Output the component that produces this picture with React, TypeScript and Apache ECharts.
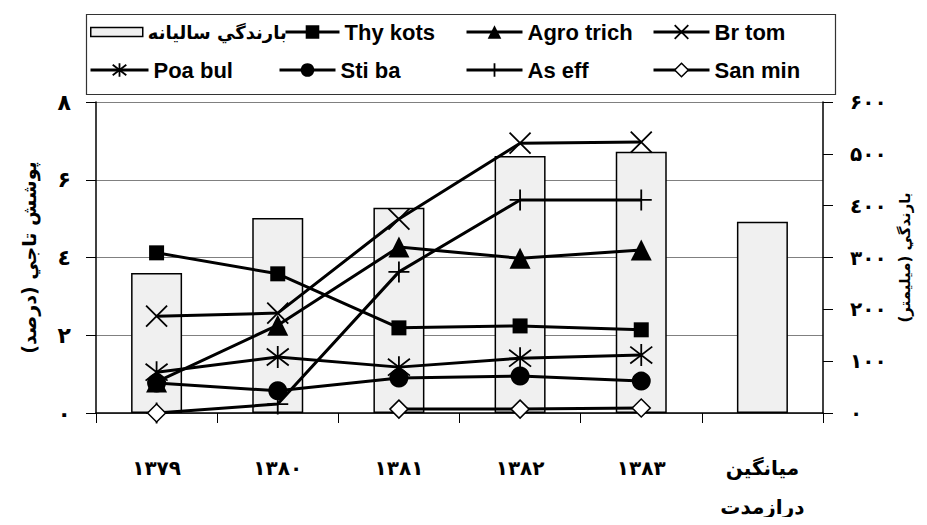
import React, { useEffect, useRef } from 'react';
import * as echarts from 'echarts';

const categories = ['۱۳۷۹', '۱۳۸۰', '۱۳۸۱', '۱۳۸۲', '۱۳۸۳', 'ميانگين\nدرازمدت'];
const rainfall = [270, 376, 396, 496, 504, 369];
const thyKots = [4.12, 3.58, 2.19, 2.24, 2.14, null];
const agroTrich = [0.8, 2.26, 4.27, 3.98, 4.19, null];
const brTom = [2.49, 2.57, 4.99, 6.94, 6.97, null];
const poaBul = [1.05, 1.44, 1.18, 1.41, 1.49, null];
const stiBa = [0.77, 0.57, 0.9, 0.95, 0.82, null];
const asEff = [0, 0.23, 3.63, 5.48, 5.48, null];
const sanMin = [0, null, 0.1, 0.1, 0.13, null];

const leftName = 'پوشش تاجي (درصد)';
const rightName = 'بارندگي (ميليمتر)';
const barName = 'بارندگي ساليانه';

const FA = '۰۱۲۳٤۵۶۷۸۹';
const toFa = (v: number) => String(v).replace(/[0-9]/g, (d) => FA[Number(d)]);

const LAT = 'Liberation Sans, Arial, sans-serif';
const PER = 'DejaVu Sans, sans-serif';

const CROSS = 'path://M0,0L10,10M10,0L0,10';
const PLUS = 'path://M5,0L5,10M0,5L10,5';
const ASTER = 'path://M0,0L10,10M10,0L0,10M5,-1.5L5,11.5';

// the div sits at the body's 8px margin; page coordinates minus 8
const OFF = 8;
const W = 927 - 2 * OFF;
const H = 525 - 2 * OFF;

export default function App() {
  const ref = useRef<HTMLDivElement>(null);
  useEffect(() => {
    if (!ref.current) return;
    const chart = echarts.init(ref.current, undefined, { renderer: 'svg' });

    const isPath = (s: string) => s.startsWith('path://');
    const symStyle = (symbol: string, hollow: boolean) => ({
      color: hollow ? '#fff' : '#000',
      borderColor: '#000',
      borderWidth: isPath(symbol) ? 1.8 : hollow ? 1.5 : 0,
    });

    const lineSeries = (name: string, data: any[], symbol: string, size: number, hollow = false) => ({
      name,
      type: 'line',
      yAxisIndex: 0,
      data,
      symbol,
      symbolSize: size,
      showAllSymbol: true,
      connectNulls: false,
      lineStyle: { color: '#000', width: 3 },
      itemStyle: symStyle(symbol, hollow),
      z: 3,
    });

    const legendTop = (row: number) => (row === 0 ? 32 : 70) - 12 - OFF;
    const mkLegend = (
      name: string,
      left: number,
      row: number,
      w: number,
      opts: { bar?: boolean; symbol?: string; hollow?: boolean } = {}
    ) => ({
      left: left - OFF,
      top: legendTop(row),
      padding: 0,
      itemWidth: w,
      itemHeight: opts.bar ? 9 : 17,
      selectedMode: false,
      data: [
        opts.bar
          ? { name, icon: 'rect', itemStyle: { color: '#f0f0f0', borderColor: '#000', borderWidth: 1.5 } }
          : { name, itemStyle: symStyle(opts.symbol || 'circle', !!opts.hollow) },
      ],
      lineStyle: { color: '#000', width: 3 },
      textStyle: {
        fontFamily: opts.bar ? PER : LAT,
        fontWeight: 'bold',
        fontSize: opts.bar ? 18 : 22,
        color: '#000',
        lineHeight: 24,
      },
    });

    chart.setOption({
      animation: false,
      backgroundColor: '#fff',
      grid: {
        left: 96 - OFF,
        width: 823 - 96,
        top: 102 - OFF,
        height: 413 - 102,
        containLabel: false,
        outerBoundsMode: 'none',
      },
      legend: [
        mkLegend(barName, 90, 0, 52, { bar: true }),
        mkLegend('Thy kots', 284, 0, 54, { symbol: 'rect' }),
        mkLegend('Agro trich', 465, 0, 56, { symbol: 'triangle' }),
        mkLegend('Br tom', 652, 0, 56, { symbol: CROSS }),
        mkLegend('Poa bul', 89, 1, 58, { symbol: ASTER }),
        mkLegend('Sti ba', 278, 1, 56, { symbol: 'circle' }),
        mkLegend('As eff', 465, 1, 56, { symbol: PLUS }),
        mkLegend('San min', 652, 1, 56, { symbol: 'diamond', hollow: true }),
      ],
      graphic: [
        {
          type: 'rect',
          left: 84 - OFF,
          top: 12 - OFF,
          shape: { width: 749, height: 80 },
          style: { fill: 'none', stroke: '#333', lineWidth: 1.2 },
          z: 10,
        },
      ],
      xAxis: {
        type: 'category',
        data: categories,
        boundaryGap: true,
        axisLine: { lineStyle: { color: '#000', width: 1.5 } },
        axisTick: { show: true, length: 10, alignWithLabel: false, lineStyle: { color: '#000' } },
        axisLabel: {
          color: '#000',
          fontFamily: PER,
          fontWeight: 'bold',
          fontSize: 20,
          lineHeight: 39,
          margin: 35,
          interval: 0,
        },
      },
      yAxis: [
        {
          type: 'value',
          min: 0,
          max: 8,
          interval: 2,
          position: 'left',
          name: leftName,
          nameLocation: 'middle',
          nameRotate: 90,
          nameGap: 58,
          nameTextStyle: { fontFamily: PER, fontWeight: 'bold', fontSize: 19, color: '#000' },
          axisLine: { show: true, lineStyle: { color: '#000', width: 1.5 } },
          axisTick: { show: true, length: 10, lineStyle: { color: '#000' } },
          axisLabel: {
            color: '#000',
            fontFamily: PER,
            fontWeight: 'bold',
            fontSize: 22,
            margin: 25,
            formatter: (v: number) => toFa(v),
          },
          splitLine: { show: true, lineStyle: { color: '#808080', width: 1.2 } },
        },
        {
          type: 'value',
          min: 0,
          max: 600,
          interval: 100,
          position: 'right',
          name: rightName,
          nameLocation: 'middle',
          nameRotate: 90,
          nameGap: 70,
          nameTextStyle: { fontFamily: PER, fontWeight: 'bold', fontSize: 15, color: '#000' },
          axisLine: { show: true, lineStyle: { color: '#000', width: 1.5 } },
          axisTick: { show: true, length: 10, lineStyle: { color: '#000' } },
          axisLabel: {
            color: '#000',
            fontFamily: PER,
            fontWeight: 'bold',
            fontSize: 20,
            margin: 27,
            formatter: (v: number) => toFa(v),
          },
          splitLine: { show: false },
        },
      ],
      series: [
        {
          name: barName,
          type: 'bar',
          yAxisIndex: 1,
          data: rainfall,
          barWidth: 51,
          itemStyle: { color: '#f0f0f0', borderColor: '#000', borderWidth: 1.5 },
          z: 2,
        },
        lineSeries('Thy kots', thyKots, 'rect', 15),
        lineSeries('Agro trich', agroTrich, 'triangle', 21),
        lineSeries('Br tom', brTom, CROSS, 21),
        lineSeries('Poa bul', poaBul, ASTER, 22),
        lineSeries('Sti ba', stiBa, 'circle', 19),
        lineSeries('As eff', asEff, PLUS, 21),
        lineSeries('San min', sanMin, 'diamond', 18, true),
      ],
    });
    return () => chart.dispose();
  }, []);
  return <div ref={ref} style={{ width: W, height: H }} />;
}
